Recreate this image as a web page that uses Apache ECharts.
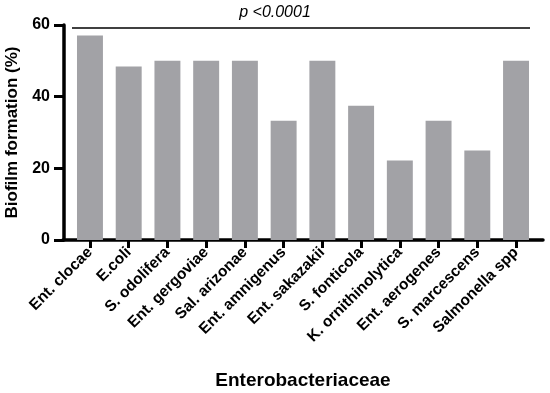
<!DOCTYPE html>
<html><head><meta charset="utf-8">
<script src="https://cdn.jsdelivr.net/npm/echarts@6/dist/echarts.min.js"></script>
<style>html,body{margin:0;padding:0;background:#fff}#c{width:550px;height:393px}</style>
</head><body><div id="c"></div>
<script>
const categories = ['Ent. clocae','E.coli','S. odolifera','Ent. gergoviae','Sal. arizonae','Ent. amnigenus','Ent. sakazakii','S. fonticola','K. ornithinolytica','Ent. aerogenes','S. marcescens','Salmonella spp'];
const values = [57.1, 48.4, 50, 50, 50, 33.3, 50, 37.5, 22.2, 33.3, 25, 50];
const yTicks = [0, 20, 40, 60];
const pText = 'p <0.0001';

const chart = echarts.init(document.getElementById('c'), null, {renderer:'canvas'});
const F = 'Liberation Sans, Arial, sans-serif';
chart.setOption({
  animation:false,
  backgroundColor:'#fff',
  grid:[
    {left:70.6, right:14.6, top:25, bottom:153, containLabel:false, outerBoundsMode:'none'},
    {left:63, right:7, top:25, bottom:153, containLabel:false, outerBoundsMode:'none'}
  ],
  xAxis:[
    {type:'category', gridIndex:0, data:categories,
     axisLine:{show:false},
     axisTick:{show:true, alignWithLabel:true, length:8, lineStyle:{color:'#000', width:3}},
     axisLabel:{rotate:45, interval:0, margin:10, color:'#000', fontFamily:F, fontWeight:'bold', fontSize:15.5}},
    {type:'value', gridIndex:1, min:0, max:1, position:'bottom',
     axisLine:{show:true, onZero:false, lineStyle:{color:'#000', width:3.5}},
     axisTick:{show:false}, axisLabel:{show:false}, splitLine:{show:false},
     name:'Enterobacteriaceae', nameLocation:'middle', nameGap:131,
     nameTextStyle:{color:'#000', fontFamily:F, fontWeight:'bold', fontSize:19}}
  ],
  yAxis:[
    {type:'value', gridIndex:0, min:yTicks[0], max:yTicks[yTicks.length-1], interval:20, offset:6.6,
     axisLine:{show:true, lineStyle:{color:'#000', width:3.5}},
     axisTick:{show:true, length:10, lineStyle:{color:'#000', width:3}},
     axisLabel:{color:'#000', fontFamily:F, fontWeight:'bold', fontSize:16, margin:14},
     splitLine:{show:false},
     name:'Biofilm formation (%)', nameLocation:'middle', nameGap:38,
     nameTextStyle:{color:'#000', fontFamily:F, fontWeight:'bold', fontSize:17}},
    {type:'value', gridIndex:1, min:0, max:1, show:false}
  ],
  series:[{
    type:'bar', xAxisIndex:0, yAxisIndex:0, data:values,
    barCategoryGap:'33%',
    itemStyle:{color:'#a2a2a6'}
  }],
  graphic:[
    {type:'line', shape:{x1:72, y1:28, x2:530, y2:28}, style:{stroke:'#000', lineWidth:1.5}},
    {type:'text', left:'center', top:5, style:{text:pText, font:'italic 16px Liberation Sans, Arial, sans-serif', fill:'#000'}}
  ]
});
</script></body></html>
